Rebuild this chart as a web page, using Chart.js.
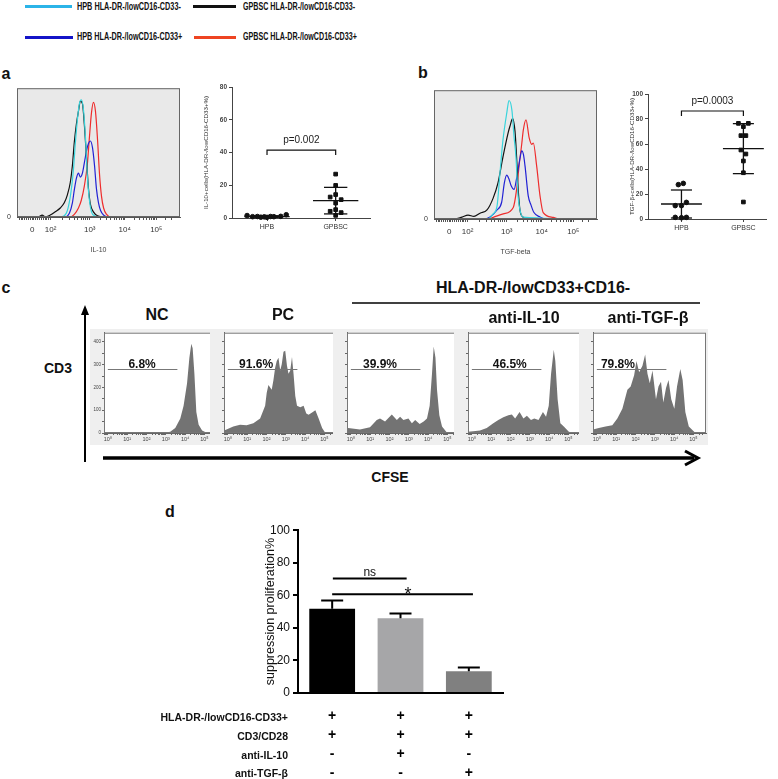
<!DOCTYPE html>
<html>
<head>
<meta charset="utf-8">
<script src="https://cdn.jsdelivr.net/npm/chart.js@4.4.1/dist/chart.umd.min.js"></script>
<style>
  body { margin: 0; width: 778px; height: 779px; position: relative; overflow: hidden; background: #fff;
         font-family: "Liberation Sans", Arial, sans-serif; }
  canvas { position: absolute; }
  .t { position: absolute; white-space: nowrap; font-weight: bold; color: #111; line-height: 1; }
  .sw { position: absolute; height: 3px; }
</style>
</head>
<body>
<div class="sw" style="left:25px;top:5px;width:47px;background:#2bb4e8"></div>
<div class="sw" style="left:193px;top:5px;width:43px;background:#111"></div>
<div class="sw" style="left:25px;top:36px;width:48px;background:#1414c8"></div>
<div class="sw" style="left:194px;top:36px;width:42px;background:#ee4422"></div>
<svg width="778" height="779" style="position:absolute;left:0;top:0;z-index:5">
  <line x1="85" y1="462" x2="85" y2="312" stroke="#000" stroke-width="2"/>
  <path d="M81,315 L85,305 L89,315 Z" fill="#000"/>
  <line x1="103" y1="458" x2="694" y2="458" stroke="#000" stroke-width="3.5"/>
  <path d="M685,451 L698,458 L685,465" fill="none" stroke="#000" stroke-width="3"/>
  <line x1="352" y1="303" x2="700" y2="303" stroke="#000" stroke-width="1.5"/>
</svg>
<script>
// ---------- data ----------
// legend
const seriesNames = ['HPB HLA-DR-/lowCD16-CD33-', 'GPBSC HLA-DR-/lowCD16-CD33-',
                     'HPB HLA-DR-/lowCD16-CD33+', 'GPBSC HLA-DR-/lowCD16-CD33+'];

// panel a/b flow overlays: x in display channel (0-1024), y in % of max
const channelTicks = [95, 211, 457, 677, 875];
const channelTickLabels = ['0', '10²', '10³', '10⁴', '10⁵'];

const aCyanX  = [0, 272, 310, 335, 354, 367, 379, 392, 404, 417, 430, 442, 455, 468, 487, 525, 1024];
const aCyanY  = [0, 0, 3, 16, 36, 58, 75, 88, 91, 84, 62, 32, 13, 4, 1, 0, 0];
const aBlackX = [0, 133, 158, 177, 209, 240, 272, 297, 316, 335, 348, 360, 373, 386, 398, 411, 423, 436, 449, 461, 480, 506, 556, 1024];
const aBlackY = [0, 0, 1.5, 0, 1.5, 4, 7, 11, 17, 27, 40, 58, 72, 82, 90, 88, 72, 47, 22, 10, 4, 1, 0, 0];
const aBlueX  = [0, 297, 329, 348, 360, 373, 386, 398, 411, 423, 436, 449, 461, 474, 487, 499, 512, 525, 544, 575, 1024];
const aBlueY  = [0, 0, 3, 11, 21, 30, 34, 31, 34, 42, 51, 57, 59, 54, 40, 22, 11, 5, 1.5, 0, 0];
const aRedX   = [0, 335, 360, 386, 404, 423, 442, 455, 468, 480, 493, 506, 518, 531, 544, 563, 588, 1024];
const aRedY   = [0, 0, 2, 7, 13, 24, 41, 62, 81, 89, 82, 60, 34, 16, 7, 2, 0, 0];

const bCyanX  = [0, 339, 371, 396, 414, 433, 458, 471, 490, 502, 515, 528, 540, 559, 1024];
const bCyanY  = [0, 0, 4, 10, 35, 61, 83, 92, 84, 65, 48, 18, 7, 1.5, 0];
const bBlackX = [0, 132, 176, 214, 251, 289, 333, 371, 402, 433, 466, 477, 494, 509, 519, 529, 540, 559, 590, 1024];
const bBlackY = [0, 0, 1.5, 3, 2, 4.5, 7, 16, 28, 48, 67, 72, 78, 68, 48, 23, 7, 1.5, 0, 0];
const bBlueX  = [0, 320, 352, 396, 425, 442, 457, 471, 484, 503, 521, 540, 551, 562, 572, 592, 609, 628, 666, 703, 1024];
const bBlueY  = [0, 0, 1.5, 7, 13, 28, 34, 31, 26, 23, 33, 47, 53, 50, 41, 18, 11, 5, 1.5, 0, 0];
const bRedX   = [0, 340, 372, 435, 498, 519, 536, 551, 561, 578, 598, 614, 624, 645, 666, 686, 749, 780, 1024];
const bRedY   = [0, 0, 1.3, 4, 9, 23, 43, 58, 69, 77, 63, 58, 59, 41, 18, 5, 1.3, 0, 0];

// panel a/b dot plots
const groups = ['HPB', 'GPBSC'];
const aHpbVals = [1.5, 0.8, 0.9, 0.5, 0.7, 0.4, 0.9, 0.8, 1.0, 2.0];
const aHpbJit  = [-0.29, -0.21, -0.14, -0.09, -0.04, 0, 0.05, 0.1, 0.2, 0.28];
const aGpbVals = [26.8, 19.9, 14.3, 12.8, 11.2, 9.1, 5.1, 4.1, 3.3, 1.6];
const aGpbJit  = [0, 0, 0, -0.08, 0.08, 0, 0, -0.08, 0.08, 0];
const aMean = [0.9, 10.6];
const aSd   = [0.5, 8.1];

const bHpbVals = [27.5, 28.5, 10.7, 10.7, 13.3, 1.3, 1.0, 1.3];
const bHpbJit  = [-0.05, 0.03, -0.1, 0, 0.08, -0.1, 0, 0.08];
const bGpbVals = [76.5, 76.5, 73.9, 66.7, 66.7, 55.2, 52, 46.4, 37, 13.6];
const bGpbJit  = [-0.08, 0.08, 0, -0.04, 0.04, -0.04, 0.04, 0, 0, 0];
const bMean = [12, 56.3];
const bSd   = [11.2, 20];

// panel c CFSE histograms: x = log10(CFSE), y = count
const cfseTitles = ['NC', 'PC', '', 'anti-IL-10', 'anti-TGF-β'];
const cfseLog = [
  [-0.2, 2.88, 3.23, 3.49, 3.75, 3.92, 4.10, 4.22, 4.32, 4.39, 4.48, 4.58, 4.70, 4.88, 5.14, 5.65],
  [-0.2, -0.16, 0.28, 0.63, 0.97, 1.32, 1.67, 1.93, 2.01, 2.10, 2.27, 2.36, 2.45, 2.53, 2.62, 2.71, 2.79, 2.88, 2.97,
   3.06, 3.14, 3.23, 3.32, 3.40, 3.49, 3.58, 3.75, 3.92, 4.06, 4.18, 4.36, 4.53, 4.70, 4.88, 5.05, 5.65],
  [-0.2, -0.14, 0.47, 0.99, 1.34, 1.51, 1.77, 2.12, 2.38, 2.55, 2.72, 2.98, 3.16, 3.33, 3.56, 3.77, 3.94, 4.08, 4.20,
   4.29, 4.38, 4.46, 4.58, 4.72, 4.98, 5.65],
  [-0.2, 0.07, 0.42, 0.77, 1.11, 1.37, 1.63, 1.89, 2.07, 2.24, 2.47, 2.67, 2.85, 3.06, 3.23, 3.45, 3.68, 3.84, 3.98,
   4.10, 4.24, 4.32, 4.44, 4.58, 4.76, 5.02, 5.28, 5.65],
  [-0.2, 0.10, 0.45, 0.80, 1.06, 1.32, 1.58, 1.75, 1.93, 2.05, 2.19, 2.36, 2.50, 2.62, 2.74, 2.88, 3.06, 3.19, 3.32,
   3.44, 3.58, 3.71, 3.85, 4.01, 4.15, 4.32, 4.44, 4.58, 4.76, 5.05, 5.65]
];
const cfseCount = [
  [0, 0, 5, 22, 64, 120, 218, 330, 391, 372, 260, 92, 36, 11, 0, 0],
  [15, 12, 29, 36, 34, 43, 64, 120, 176, 211, 190, 232, 287, 316, 330, 274, 302, 356, 361,
   295, 260, 274, 333, 260, 162, 120, 113, 120, 85, 80, 90, 100, 64, 22, 0, 0],
  [15, 22, 15, 25, 57, 64, 50, 81, 57, 71, 57, 64, 43, 57, 39, 50, 64, 120, 260,
   379, 330, 190, 78, 29, 1, 0],
  [5, 8, 11, 22, 43, 57, 69, 78, 81, 64, 92, 64, 76, 57, 64, 57, 92, 71, 120,
   260, 365, 316, 148, 43, 29, 6, 0, 0],
  [15, 22, 29, 34, 64, 106, 190, 204, 253, 316, 267, 295, 344, 260, 218, 274, 148, 204, 225,
   134, 197, 232, 148, 106, 204, 281, 232, 92, 29, 4, 0]
];
const gateLabels = ['6.8%', '91.6%', '39.9%', '46.5%', '79.8%'];
const gateTextAt = [1.77, 1.46, 1.51, 1.96, 1.09];
const gateRange = [0, 3.6];
const gateLevel = 280;

// panel d
const dMeans = [51.7, 45.9, 13.3];
const dErr = [5.1, 3.0, 2.3];
const dColors = ['#000000', '#a6a6a8', '#808080'];
const rowNames = ['HLA-DR-/lowCD16-CD33+', 'CD3/CD28', 'anti-IL-10', 'anti-TGF-β'];
const rowMarks = [['+', '+', '+'], ['+', '+', '+'], ['-', '+', '-'], ['-', '-', '+']];
const sigBars = [
  { from: 0.01, to: 1.09, level: 70.3, text: 'ns', at: 0.55 },
  { from: 0, to: 2.06, level: 60.6, text: '*', at: 1.11 }
];

// ---------- helpers ----------
Chart.defaults.font.family = '"Liberation Sans", Arial, sans-serif';
Chart.defaults.color = '#222';
Chart.defaults.animation = false;
Chart.defaults.responsive = false;
Chart.defaults.devicePixelRatio = 1;
Chart.defaults.events = [];
Chart.defaults.plugins.legend.display = false;
Chart.defaults.plugins.tooltip.enabled = false;

function makeCanvas(left, top, w, h) {
  const c = document.createElement('canvas');
  c.width = w; c.height = h;
  c.style.left = left + 'px'; c.style.top = top + 'px';
  c.style.width = w + 'px'; c.style.height = h + 'px';
  document.body.appendChild(c);
  return c;
}

function label(text, x, y, size, anchor, fitWidth) {
  const d = document.createElement('div');
  d.className = 't';
  d.textContent = text;
  d.style.fontSize = size + 'px';
  d.style.left = x + 'px';
  d.style.top = y + 'px';
  document.body.appendChild(d);
  const ax = anchor === 'left' ? '0' : anchor === 'right' ? '-100%' : '-50%';
  let tf = `translate(${ax}, -50%)`;
  if (fitWidth) {
    d.style.transformOrigin = '0 50%';
    tf += ` scaleX(${fitWidth / d.offsetWidth})`;
  }
  d.style.transform = tf;
  return d;
}

const pts = (xs, ys) => xs.map((x, i) => ({ x, y: ys[i] }));

const panelFrame = (fill, stroke) => ({
  id: 'panelFrame',
  beforeDraw(c) {
    const { ctx, chartArea: a } = c;
    ctx.save(); ctx.fillStyle = fill; ctx.fillRect(a.left, a.top, a.width, a.height); ctx.restore();
  },
  afterDatasetsDraw(c) {
    const { ctx, chartArea: a } = c;
    ctx.save(); ctx.strokeStyle = stroke; ctx.lineWidth = 1;
    ctx.strokeRect(a.left + 0.5, a.top + 0.5, a.width - 1, a.height - 1); ctx.restore();
  }
});

// logicle-like minor ticks for panels a/b
const logicleTicks = channelTicks.slice();
for (let m = -7; m <= 9; m++) if (m !== 0) logicleTicks.push(channelTicks[0] + m * (channelTicks[1] - channelTicks[0]) / 10);
for (let k = 1; k < 4; k++) for (let m = 2; m <= 9; m++) logicleTicks.push(channelTicks[k] + Math.log10(m) * (channelTicks[k + 1] - channelTicks[k]));
for (let m = 2; m <= 3; m++) logicleTicks.push(channelTicks[4] + Math.log10(m) * (channelTicks[4] - channelTicks[3]));

function flowOverlay(left, top, curves, axisTitle) {
  const cv = makeCanvas(left, top, 183, 181);
  return new Chart(cv, {
    type: 'line',
    data: {
      datasets: curves.map(c => ({
        data: pts(c.x, c.y), borderColor: c.color, borderWidth: 1.2, pointRadius: 0,
        cubicInterpolationMode: 'monotone', fill: false
      }))
    },
    options: {
      layout: { padding: { top: 6, right: 3 } },
      scales: {
        x: {
          type: 'linear', min: 0, max: 1024,
          afterFit: s => { s.height = 42; },
          afterBuildTicks: s => { s.ticks = logicleTicks.map(v => ({ value: v })); },
          ticks: {
            autoSkip: false, maxRotation: 0, padding: 5, font: { size: 8 }, color: '#333',
            callback: v => { const i = channelTicks.indexOf(v); return i < 0 ? '' : channelTickLabels[i]; }
          },
          grid: { drawOnChartArea: false, tickLength: 3, color: '#555' },
          border: { color: '#555' },
          title: { display: true, text: axisTitle, font: { size: 7 }, color: '#444', padding: { bottom: 5 } }
        },
        y: {
          min: 0, max: 100,
          afterFit: s => { s.width = 17; },
          afterBuildTicks: s => { s.ticks = [{ value: 0 }]; },
          ticks: { padding: 6, font: { size: 7 }, color: '#333' },
          grid: { display: false, drawTicks: false },
          border: { display: false }
        }
      }
    },
    plugins: [panelFrame('#e9e9e9', '#666')]
  });
}

function dotPlot(cfg) {
  const cv = makeCanvas(cfg.left, cfg.top, cfg.w, cfg.h);
  const meanHalf = 0.33, capHalf = 0.17;
  const extras = {
    id: 'dotExtras',
    afterDatasetsDraw(c) {
      const { ctx, scales: { x, y } } = c;
      const seg = (x0, y0, x1, y1) => {
        ctx.beginPath();
        ctx.moveTo(x.getPixelForValue(x0), y.getPixelForValue(y0));
        ctx.lineTo(x.getPixelForValue(x1), y.getPixelForValue(y1));
        ctx.stroke();
      };
      ctx.save();
      ctx.strokeStyle = '#111'; ctx.lineWidth = 1.3;
      cfg.mean.forEach((m, i) => {
        const cx = i + 1, sd = cfg.sd[i];
        seg(cx - meanHalf, m, cx + meanHalf, m);
        seg(cx, Math.max(m - sd, 0), cx, m + sd);
        seg(cx - capHalf, m + sd, cx + capHalf, m + sd);
        if (m - sd > 0) seg(cx - capHalf, m - sd, cx + capHalf, m - sd);
      });
      ctx.lineWidth = 1.2;
      const [top, leg] = cfg.bracket;
      ctx.beginPath();
      ctx.moveTo(x.getPixelForValue(1), y.getPixelForValue(leg));
      ctx.lineTo(x.getPixelForValue(1), y.getPixelForValue(top));
      ctx.lineTo(x.getPixelForValue(2), y.getPixelForValue(top));
      ctx.lineTo(x.getPixelForValue(2), y.getPixelForValue(leg));
      ctx.stroke();
      ctx.fillStyle = '#222';
      ctx.font = '10px "Liberation Sans", Arial, sans-serif';
      ctx.textAlign = 'center'; ctx.textBaseline = 'alphabetic';
      ctx.fillText(cfg.pText, x.getPixelForValue(1.5), y.getPixelForValue(top) - 7);
      ctx.restore();
    }
  };
  return new Chart(cv, {
    type: 'scatter',
    data: {
      datasets: [
        { data: cfg.hpb.map((v, i) => ({ x: 1 + cfg.hpbJit[i], y: v })), pointStyle: 'circle', pointRadius: 2.3,
          backgroundColor: '#111', borderColor: '#111', clip: false },
        { data: cfg.gpb.map((v, i) => ({ x: 2 + cfg.gpbJit[i], y: v })), pointStyle: 'rect', pointRadius: 2.6,
          backgroundColor: '#111', borderColor: '#111', clip: false }
      ]
    },
    options: {
      layout: { padding: { top: cfg.padTop, right: 3 } },
      scales: {
        x: {
          type: 'linear', min: cfg.xMin, max: cfg.xMax,
          afterFit: s => { s.height = 17; },
          afterBuildTicks: s => { s.ticks = [{ value: 1 }, { value: 2 }]; },
          ticks: { autoSkip: false, maxRotation: 0, padding: 2, font: { size: 7 }, color: '#333',
                   callback: v => groups[v - 1] },
          grid: { drawOnChartArea: false, tickLength: 3, color: '#444' },
          border: { color: '#444' }
        },
        y: {
          min: 0, max: cfg.yMax,
          afterFit: s => { s.width = cfg.yw; },
          ticks: { stepSize: 20, padding: 2, font: { size: 6.5, weight: 'bold' }, color: '#444' },
          grid: { drawOnChartArea: false, tickLength: 3, color: '#444' },
          border: { color: '#444' },
          title: { display: true, text: cfg.yTitle, font: { size: 6.2 }, color: '#333', padding: { top: 3 } }
        }
      }
    },
    plugins: [extras]
  });
}

// CFSE tick positions (log10 units)
const cfseTicks = [];
for (let k = 0; k <= 5; k++) {
  cfseTicks.push(k);
  for (let m = 2; m <= 9; m++) if (k + Math.log10(m) <= 5.6) cfseTicks.push(k + Math.log10(m));
}
for (let m = 7; m <= 9; m++) cfseTicks.push(Math.log10(m) - 1);
const sup = ['⁰', '¹', '²', '³', '⁴', '⁵'];
const countTicks = [0, 50, 100, 150, 200, 250, 300, 350, 400];

function cfseHist(left, i) {
  const cv = makeCanvas(left, 329, 129, 116);
  cv.style.background = '#efefef';
  const gate = {
    id: 'gate',
    afterDatasetsDraw(c) {
      const { ctx, scales: { x, y } } = c;
      const yy = Math.round(y.getPixelForValue(gateLevel)) + 0.5;
      ctx.save();
      ctx.strokeStyle = '#777'; ctx.lineWidth = 1;
      ctx.beginPath();
      ctx.moveTo(x.getPixelForValue(gateRange[0]), yy);
      ctx.lineTo(x.getPixelForValue(gateRange[1]), yy);
      ctx.stroke();
      ctx.font = 'bold 12px "Liberation Sans", Arial, sans-serif';
      ctx.fillStyle = '#111'; ctx.textAlign = 'center'; ctx.textBaseline = 'alphabetic';
      ctx.fillText(gateLabels[i], x.getPixelForValue(gateTextAt[i]), yy - 2);
      ctx.restore();
    }
  };
  return new Chart(cv, {
    type: 'line',
    data: {
      datasets: [{ data: pts(cfseLog[i], cfseCount[i]), fill: 'origin', backgroundColor: '#737373',
                   borderWidth: 0, pointRadius: 0, tension: 0 }]
    },
    options: {
      layout: { padding: { top: 0, right: 2 } },
      scales: {
        x: {
          type: 'linear', min: -0.2, max: 5.65,
          afterFit: s => { s.height = 12; },
          afterBuildTicks: s => { s.ticks = cfseTicks.map(v => ({ value: v })); },
          ticks: { autoSkip: false, maxRotation: 0, padding: 1, font: { size: 5.5 }, color: '#444',
                   callback: v => (Number.isInteger(v) ? '10' + sup[v] : '') },
          grid: { drawOnChartArea: false, tickLength: 2, color: '#666' },
          border: { color: '#666' }
        },
        y: {
          min: 0, max: 440,
          afterFit: s => { s.width = 14; },
          afterBuildTicks: s => { s.ticks = countTicks.map(v => ({ value: v })); },
          ticks: { padding: 1, font: { size: 4.5 }, color: '#444',
                   callback: v => (i === 0 && v % 100 === 0 ? String(v) : '') },
          grid: { drawOnChartArea: false, tickLength: 2, color: '#666' },
          border: { color: '#666' }
        }
      }
    },
    plugins: [panelFrame('#ffffff', '#777'), gate]
  });
}

// ---------- legend + labels ----------
label(seriesNames[0], 77, 7, 10, 'left', 104);
label(seriesNames[1], 243, 7, 10, 'left', 112);
label(seriesNames[2], 77, 37, 10, 'left', 105);
label(seriesNames[3], 243, 37, 10, 'left', 114);

label('a', 6, 74, 16);
label('b', 423, 73, 16);
label('c', 6, 288, 16);
label('d', 170, 512, 16);

// ---------- panel a / b ----------
const hCyan = '#38d4dc', hBlack = '#111111', hBlue = '#2222d4', hRed = '#ee2c2c';
flowOverlay(0, 78, [
  { x: aCyanX, y: aCyanY, color: hCyan },
  { x: aBlackX, y: aBlackY, color: hBlack },
  { x: aBlueX, y: aBlueY, color: hBlue },
  { x: aRedX, y: aRedY, color: hRed }
], 'IL-10');

flowOverlay(417, 80, [
  { x: bCyanX, y: bCyanY, color: hCyan },
  { x: bBlackX, y: bBlackY, color: hBlack },
  { x: bBlueX, y: bBlueY, color: hBlue },
  { x: bRedX, y: bRedY, color: hRed }
], 'TGF-beta');

dotPlot({
  left: 200, top: 80, w: 175, h: 155, yw: 32, padTop: 7, yMax: 80, xMin: 0.49, xMax: 2.5,
  hpb: aHpbVals, hpbJit: aHpbJit, gpb: aGpbVals, gpbJit: aGpbJit, mean: aMean, sd: aSd,
  bracket: [41.5, 38.4], pText: 'p=0.002', yTitle: 'IL-10+cells(HLA-DR-/lowCD16-CD33+%)'
});

dotPlot({
  left: 626, top: 88, w: 145, h: 148, yw: 22, padTop: 6, yMax: 100, xMin: 0.46, xMax: 2.365,
  hpb: bHpbVals, hpbJit: bHpbJit, gpb: bGpbVals, gpbJit: bGpbJit, mean: bMean, sd: bSd,
  bracket: [86.4, 82.4], pText: 'p=0.0003', yTitle: 'TGF-β+cells(HLA-DR-/lowCD16-CD33+%)'
});

// ---------- panel c ----------
label('HLA-DR-/lowCD33+CD16-', 533, 288, 16);
label('CD3', 58, 368, 14);
label('CFSE', 390, 477, 14);
const cfseLefts = [90, 210, 333, 454, 579];
const cfseTitleX = [157, 283, 0, 524, 648];
cfseLefts.forEach((l, i) => {
  cfseHist(l, i);
  if (cfseTitles[i]) label(cfseTitles[i], cfseTitleX[i], i < 3 ? 315 : 318, 16);
});

// ---------- panel d ----------
const errorBars = {
  id: 'errorBars',
  afterDatasetsDraw(c) {
    const { ctx, scales: { x, y } } = c;
    ctx.save();
    ctx.strokeStyle = '#000'; ctx.lineWidth = 2;
    dMeans.forEach((m, i) => {
      const px = x.getPixelForValue(i), top = y.getPixelForValue(m + dErr[i]), base = y.getPixelForValue(m);
      ctx.beginPath();
      ctx.moveTo(px, base); ctx.lineTo(px, top);
      ctx.moveTo(px - 11, top); ctx.lineTo(px + 11, top);
      ctx.stroke();
    });
    sigBars.forEach(s => {
      const py = y.getPixelForValue(s.level);
      ctx.lineWidth = 2;
      ctx.beginPath();
      ctx.moveTo(x.getPixelForValue(s.from), py); ctx.lineTo(x.getPixelForValue(s.to), py);
      ctx.stroke();
      ctx.fillStyle = '#111'; ctx.textAlign = 'center'; ctx.textBaseline = 'alphabetic';
      if (s.text === '*') {
        ctx.font = '18px "Liberation Sans", Arial, sans-serif';
        ctx.fillText(s.text, x.getPixelForValue(s.at), py + 6);
      } else {
        ctx.font = '12px "Liberation Sans", Arial, sans-serif';
        ctx.fillText(s.text, x.getPixelForValue(s.at), py - 3);
      }
    });
    ctx.restore();
  }
};

new Chart(makeCanvas(255, 520, 250, 259), {
  type: 'bar',
  data: {
    labels: dMeans.map((_, i) => rowMarks.map(r => r[i])),
    datasets: [{ data: dMeans, backgroundColor: dColors, barPercentage: 0.67, categoryPercentage: 1 }]
  },
  options: {
    layout: { padding: { top: 8, right: 2 } },
    scales: {
      x: {
        afterFit: s => { s.height = 86; },
        grid: { display: false, drawTicks: false },
        border: { color: '#000', width: 2 },
        ticks: { padding: 14, color: '#000', font: { size: 14, weight: 'bold', lineHeight: 1.36 } }
      },
      y: {
        min: 0, max: 100,
        afterFit: s => { s.width = 43; },
        ticks: { stepSize: 20, padding: 3, color: '#111', font: { size: 12 } },
        grid: { drawOnChartArea: false, tickLength: 5, color: '#000', lineWidth: 2 },
        border: { color: '#000', width: 2 },
        title: { display: true, text: 'suppression proliferation%', font: { size: 12.5 }, color: '#111', padding: { top: 8 } }
      }
    }
  },
  plugins: [errorBars]
});

const rowY = [717, 736, 755, 773];
rowNames.forEach((n, i) => label(n, 288, rowY[i], 10.5, 'right'));
</script>
</body>
</html>
